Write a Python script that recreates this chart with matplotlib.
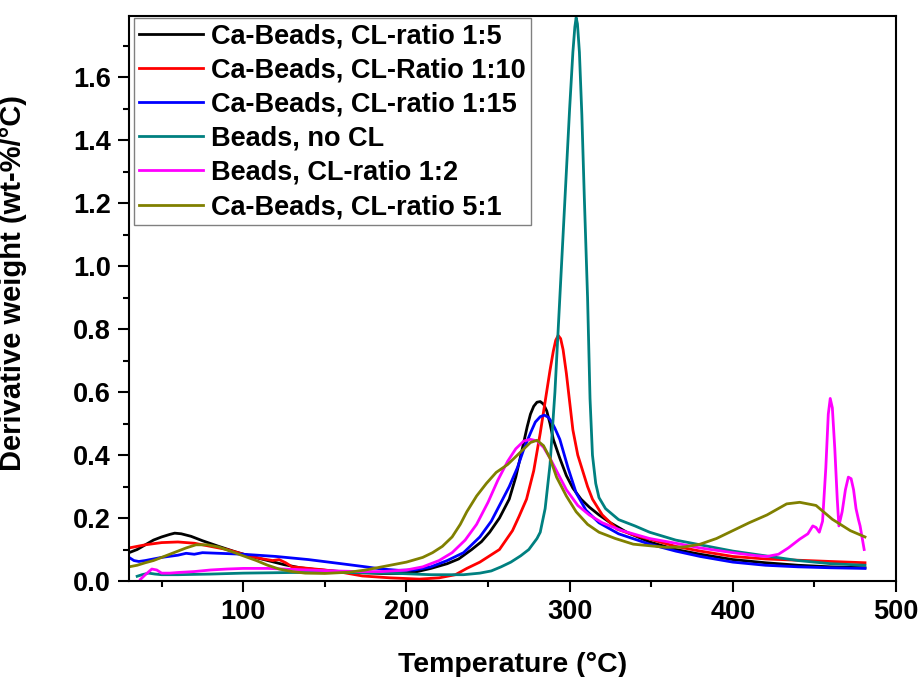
import matplotlib
matplotlib.use("Agg")
import matplotlib.pyplot as plt
from matplotlib.ticker import MultipleLocator

plt.rcParams['font.family'] = ['Liberation Sans', 'DejaVu Sans']
plt.rcParams['font.weight'] = 'bold'

labels = ["Ca-Beads, CL-ratio 1:5", "Ca-Beads, CL-Ratio 1:10", "Ca-Beads, CL-ratio 1:15",
          "Beads, no CL", "Beads, CL-ratio 1:2", "Ca-Beads, CL-ratio 5:1"]
colors = ["#000000", "#FF0000", "#0000FF", "#008080", "#FF00FF", "#808000"]

x_15 = [30, 35, 40, 45, 50, 55, 58, 62, 68, 75, 85, 95, 105, 115, 125, 135, 145, 155, 165, 175, 185, 195,
        205, 215, 225, 232, 240, 246, 251, 257, 263, 267, 271, 274, 276, 278, 280, 282, 284, 286, 288, 290,
        294, 298, 302, 307, 312, 318, 325, 335, 349, 365, 380, 400, 420, 440, 460, 481]
y_15 = [0.09, 0.10, 0.115, 0.13, 0.14, 0.148, 0.152, 0.15, 0.142, 0.128, 0.11, 0.093, 0.078, 0.065, 0.052,
        0.042, 0.036, 0.032, 0.028, 0.026, 0.024, 0.024, 0.028, 0.04, 0.055, 0.07, 0.10, 0.125, 0.155, 0.20,
        0.26, 0.33, 0.42, 0.49, 0.53, 0.555, 0.568, 0.57, 0.562, 0.54, 0.50, 0.45, 0.39, 0.335, 0.295,
        0.26, 0.235, 0.21, 0.185, 0.155, 0.124, 0.10, 0.085, 0.068, 0.058, 0.05, 0.045, 0.042]

x_110 = [30, 40, 50, 60, 70, 80, 90, 100, 110, 118, 122, 126, 130, 140, 150, 160, 173, 190, 208, 220, 230,
         237, 245, 251, 257, 261, 265, 269, 273.6, 278, 282, 285, 288, 290, 291.5, 293, 294.5, 296, 298,
         300, 302, 305, 308, 311, 314, 320, 329, 340, 349, 365, 380, 400, 420, 440, 460, 481]
y_110 = [0.105, 0.115, 0.122, 0.124, 0.12, 0.11, 0.10, 0.085, 0.072, 0.065, 0.068, 0.058, 0.045, 0.04, 0.035,
         0.028, 0.016, 0.01, 0.006, 0.01, 0.02, 0.04, 0.06, 0.08, 0.10, 0.13, 0.16, 0.205, 0.26, 0.35, 0.47,
         0.57, 0.67, 0.73, 0.765, 0.78, 0.77, 0.735, 0.66, 0.57, 0.48, 0.40, 0.35, 0.30, 0.26, 0.21, 0.165,
         0.145, 0.133, 0.11, 0.095, 0.078, 0.07, 0.066, 0.062, 0.058]

x_115 = [30, 33, 36, 40, 50, 60, 65, 70, 75, 85, 100, 120, 140, 160, 175, 185, 195, 205, 215, 225, 235, 245,
         252, 258, 263, 268, 272, 276, 279, 282, 284.5, 287, 289, 291, 294, 299, 304, 310, 318, 330, 349,
         365, 380, 400, 420, 440, 460, 481]
y_115 = [0.075, 0.065, 0.062, 0.065, 0.075, 0.082, 0.088, 0.085, 0.09, 0.088, 0.085, 0.078, 0.068, 0.055,
         0.045, 0.038, 0.034, 0.035, 0.045, 0.065, 0.09, 0.14, 0.19, 0.25, 0.30, 0.36, 0.42, 0.47, 0.505,
         0.522, 0.527, 0.52, 0.505, 0.485, 0.45, 0.36, 0.28, 0.225, 0.185, 0.15, 0.117, 0.095, 0.078, 0.06,
         0.05, 0.045, 0.042, 0.04]

x_nocl = [35, 38, 42, 46, 50, 60, 80, 100, 130, 160, 190, 215, 235, 245, 252, 258, 264, 270, 275, 280, 282,
          285, 288, 291, 294, 297, 300, 302, 303.2, 304, 304.8, 306, 307.5, 309, 311, 312.5, 314, 316, 318,
          322, 330, 340, 349, 365, 380, 400, 420, 440, 460, 481]
y_nocl = [0.015, 0.02, 0.025, 0.022, 0.02, 0.02, 0.022, 0.025, 0.027, 0.027, 0.025, 0.02, 0.02, 0.025, 0.032,
          0.045, 0.06, 0.08, 0.10, 0.135, 0.155, 0.23, 0.37, 0.60, 0.90, 1.20, 1.50, 1.68, 1.76, 1.79, 1.77,
          1.68, 1.48, 1.22, 0.90, 0.58, 0.40, 0.31, 0.265, 0.23, 0.195, 0.175, 0.155, 0.13, 0.115, 0.095,
          0.08, 0.065, 0.055, 0.05]

x_12 = [37, 40, 44, 47, 50, 55, 60, 70, 80, 90, 100, 115, 130, 150, 170, 185, 200, 210, 220, 228, 236, 243,
        250, 256, 262, 267, 272, 276, 280, 284, 288, 293, 298, 305, 312, 320, 332, 349, 365, 380, 400, 415,
        421, 428, 434, 441, 446, 449, 451, 453, 455, 457, 458.5, 459.7, 461, 462.5, 464, 465, 467, 469,
        470.8, 472.5, 474, 475.5, 477, 478, 479.5, 480.5]
y_12 = [0.005, 0.02, 0.038, 0.035, 0.025, 0.025, 0.027, 0.03, 0.035, 0.038, 0.04, 0.04, 0.037, 0.033, 0.03,
        0.03, 0.035, 0.045, 0.065, 0.09, 0.13, 0.18, 0.25, 0.32, 0.38, 0.42, 0.445, 0.45, 0.445, 0.425,
        0.39, 0.34, 0.29, 0.24, 0.21, 0.185, 0.16, 0.135, 0.12, 0.105, 0.09, 0.08, 0.078, 0.085, 0.105,
        0.133, 0.15, 0.175, 0.17, 0.155, 0.19, 0.36, 0.53, 0.58, 0.55, 0.42, 0.26, 0.175, 0.22, 0.29,
        0.33, 0.325, 0.29, 0.23, 0.195, 0.175, 0.13, 0.10]

x_51 = [30, 35, 40, 45, 50, 55, 60, 65, 71, 78, 85, 92, 100, 108, 115, 122, 130, 138, 150, 165, 175, 185,
        195, 200, 210, 216, 222, 228, 233, 237, 243, 249, 255, 262, 270, 276, 280, 284, 288, 292, 298, 304,
        311, 318, 328, 339, 349, 359, 370, 380, 390, 400, 410, 421, 433, 441, 451, 461, 472, 481]
y_51 = [0.045, 0.05, 0.058, 0.065, 0.075, 0.085, 0.095, 0.105, 0.115, 0.115, 0.108, 0.095, 0.08, 0.065,
        0.05, 0.038, 0.03, 0.025, 0.024, 0.028, 0.035, 0.045, 0.055, 0.06, 0.075, 0.09, 0.11, 0.14, 0.18,
        0.22, 0.27, 0.31, 0.345, 0.37, 0.41, 0.44, 0.447, 0.43, 0.39, 0.33, 0.27, 0.22, 0.18, 0.155, 0.135,
        0.117, 0.112, 0.107, 0.108, 0.117, 0.135, 0.16, 0.185, 0.21, 0.245, 0.25, 0.24, 0.196, 0.16, 0.14]

xs = [x_15, x_110, x_115, x_nocl, x_12, x_51]
ys = [y_15, y_110, y_115, y_nocl, y_12, y_51]

fig = plt.figure(figsize=(9.22, 6.77), dpi=100)
W, H = 922, 677
L, R, T, B = 129, 896, 16, 581
ax = fig.add_axes([L / W, (H - B) / H, (R - L) / W, (B - T) / H])

for x, y, c, lab in zip(xs, ys, colors, labels):
    ax.plot(x, y, color=c, lw=2.0, label=lab, solid_joinstyle='round')

ax.set_xlim(30, 500)
ax.set_ylim(0, 1.795)
ax.xaxis.set_major_locator(MultipleLocator(100))
ax.xaxis.set_minor_locator(MultipleLocator(50))
ax.yaxis.set_major_locator(MultipleLocator(0.2))
ax.yaxis.set_minor_locator(MultipleLocator(0.1))
ax.yaxis.set_major_formatter(matplotlib.ticker.FormatStrFormatter('%.1f'))

for s in ax.spines.values():
    s.set_linewidth(1.5)
ax.tick_params(which='major', direction='out', length=8, width=1.5, labelsize=19.5, pad=5)
ax.tick_params(which='minor', direction='out', length=4, width=1.5)
ax.tick_params(top=False, right=False)

ax.set_xlabel("Temperature (°C)", fontsize=20.5, fontweight='bold')
ax.set_ylabel("Derivative weight (wt-%/°C)", fontsize=21, fontweight='bold')
ax.xaxis.set_label_coords(0.5, -0.125)
ax.yaxis.set_label_coords(-0.133, 0.527)

leg = ax.legend(loc='upper left', bbox_to_anchor=(5 / 767, (B - 18) / (B - T)), borderaxespad=0,
                prop={'size': 19.5, 'weight': 'bold'}, frameon=True, fancybox=False, framealpha=1,
                edgecolor='#808080', borderpad=0.2, labelspacing=0.3, handlelength=2.35,
                handletextpad=0.3)
leg.get_frame().set_linewidth(1.0)

fig.savefig("out.png", dpi=100)
